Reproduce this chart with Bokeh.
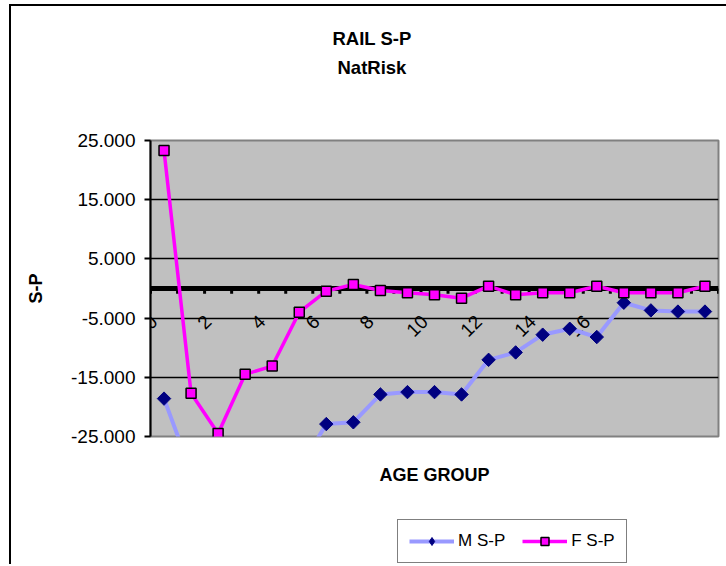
import math
from bokeh.plotting import figure
from bokeh.layouts import column
from bokeh.models import (Range1d, Span, Legend, LegendItem, FixedTicker, LinearAxis,
                          NumeralTickFormatter, Title)
from bokeh.core.properties import value
from bokeh.embed import file_html
from bokeh.resources import INLINE

# ---- data ----
categories = list(range(21))
m_sp = [-18.6, -31.0, -33.0, -36.0, -33.0, -30.5, -22.9, -22.6, -17.9, -17.5, -17.5,
        -17.9, -12.05, -10.8, -7.8, -6.8, -8.2, -2.4, -3.7, -3.9, -3.9]
f_sp = [23.3, -17.7, -24.5, -14.5, -13.1, -4.0, -0.45, 0.68, -0.34, -0.73, -1.07,
        -1.63, 0.39, -1.07, -0.73, -0.73, 0.39, -0.73, -0.73, -0.73, 0.39]
x_tick_positions = [0, 2, 4, 6, 8, 10, 12, 14, 16]
x_tick_labels = ["0", "2", "4", "6", "8", "10", "12", "14", "16"]
y_ticks = [-25, -15, -5, 5, 15, 25]

FONT = "Liberation Sans"
M_LINE = dict(line_color="#9999FF", line_width=4)
M_MARK = dict(marker="square", angle=math.pi / 4, size=9.5, fill_color="#000080",
              line_color="#000080")
F_LINE = dict(line_color="#FF00FF", line_width=3.5)
F_MARK = dict(marker="square", size=10, fill_color="#FF00FF", line_color="black",
              line_width=1.5)

p = figure(frame_width=568, frame_height=296, output_backend="svg", toolbar_location=None,
           x_range=Range1d(-0.5, len(categories) - 0.5), y_range=Range1d(-25, 25),
           x_axis_location=None,
           min_border_left=139, min_border_right=8, min_border_top=134, min_border_bottom=80,
           background_fill_color="#C0C0C0", border_fill_color="white",
           outline_line_color="#808080", outline_line_width=2)

# y axis
yax = p.yaxis[0]
yax.ticker = FixedTicker(ticks=y_ticks)
yax.formatter = NumeralTickFormatter(format="0.000")
yax.major_label_text_font = FONT
yax.major_label_text_font_size = "19px"
yax.major_label_text_color = "black"
yax.axis_line_color = "black"
yax.axis_line_width = 2
yax.major_tick_line_color = "black"
yax.major_tick_line_width = 2
yax.major_tick_out = 6
yax.major_tick_in = 0
yax.minor_tick_line_color = None
yax.major_label_standoff = 9
yax.axis_label = "S-P"
yax.axis_label_text_font = FONT
yax.axis_label_text_font_style = "bold"
yax.axis_label_text_font_size = "18px"
yax.axis_label_text_color = "black"
yax.axis_label_standoff = 22

p.ygrid.grid_line_color = "black"
p.ygrid.grid_line_width = 1.5
p.xgrid.visible = False

# category axis line at zero, with its ticks at category boundaries
p.add_layout(Span(location=0, dimension="width", line_color="black", line_width=5,
                  level="underlay"))
boundaries = [c - 0.5 for c in categories] + [categories[-1] + 0.5]
TICK_LEN = 0.9
p.segment(x0=boundaries, y0=[0] * len(boundaries), x1=boundaries,
          y1=[-TICK_LEN] * len(boundaries), line_color="black", line_width=3)

# category tick labels
p.text(x=x_tick_positions, y=[0] * len(x_tick_positions), text=x_tick_labels,
       angle=math.pi / 4, text_align="right", text_baseline="middle",
       x_offset=-10, y_offset=30, text_font=value(FONT), text_font_size="19px",
       text_color="black")

# series
p.line(categories, m_sp, **M_LINE)
p.scatter(categories, m_sp, **M_MARK)
p.line(categories, f_sp, **F_LINE)
p.scatter(categories, f_sp, **F_MARK)

# bottom: axis title
xax = LinearAxis(ticker=FixedTicker(ticks=[]), axis_line_color=None,
                 major_tick_out=0, major_tick_in=0, minor_tick_out=0, minor_tick_in=0,
                 major_label_standoff=0, major_label_text_font_size="0px",
                 axis_label="AGE GROUP", axis_label_standoff=28,
                 axis_label_text_font=FONT, axis_label_text_font_style="bold",
                 axis_label_text_font_size="18px", axis_label_text_color="black")
p.add_layout(xax, "below")

# top: spacer axis + two title lines
spacer = LinearAxis(ticker=FixedTicker(ticks=[0]), axis_line_color=None,
                    major_tick_line_color=None, minor_tick_line_color=None,
                    major_tick_out=60, major_tick_in=0, minor_tick_out=0, minor_tick_in=0,
                    major_label_standoff=0, major_label_overrides={0: ""},
                    major_label_text_font_size="0px")
p.add_layout(spacer, "above")
p.add_layout(Title(text="NatRisk", align="left", offset=187, standoff=6,
                   text_font=FONT, text_font_style="bold", text_font_size="18.5px",
                   text_color="black"), "above")
p.add_layout(Title(text="RAIL  S-P", align="left", offset=182, standoff=6,
                   text_font=FONT, text_font_style="bold", text_font_size="18.5px",
                   text_color="black"), "above")

# legend strip below the chart (same series, drawn outside its visible range)
lg = figure(width=715, height=48, output_backend="svg", toolbar_location=None,
            x_axis_location=None, y_axis_location=None, min_border=0,
            x_range=Range1d(-200, -199), y_range=Range1d(-200, -199),
            outline_line_color=None, background_fill_color="white",
            border_fill_color="white")
lg.grid.visible = False
lm_line = lg.line(categories, m_sp, **M_LINE)
lm_mark = lg.scatter(categories, m_sp, marker="diamond", size=12,
                     fill_color="#000080", line_color="#000080")
lf_line = lg.line(categories, f_sp, **F_LINE)
lf_mark = lg.scatter(categories, f_sp, **F_MARK)

legend = Legend(items=[LegendItem(label="M S-P", renderers=[lm_line, lm_mark]),
                       LegendItem(label="F S-P", renderers=[lf_line, lf_mark])],
                orientation="horizontal", location=(247, 1),
                glyph_width=45, glyph_height=20, label_standoff=4, spacing=17,
                padding=11, margin=0, label_height=20,
                border_line_color="black", border_line_width=1.5,
                background_fill_color="white", background_fill_alpha=1,
                label_text_font=FONT, label_text_font_size="17px",
                label_text_color="black")
lg.add_layout(legend, "center")

layout = column(p, lg, spacing=0,
                styles={"margin-left": "9px", "margin-top": "4px",
                        "border-top": "2px solid black", "border-left": "2px solid black"})

open("out.html", "w").write(file_html(layout, INLINE))
